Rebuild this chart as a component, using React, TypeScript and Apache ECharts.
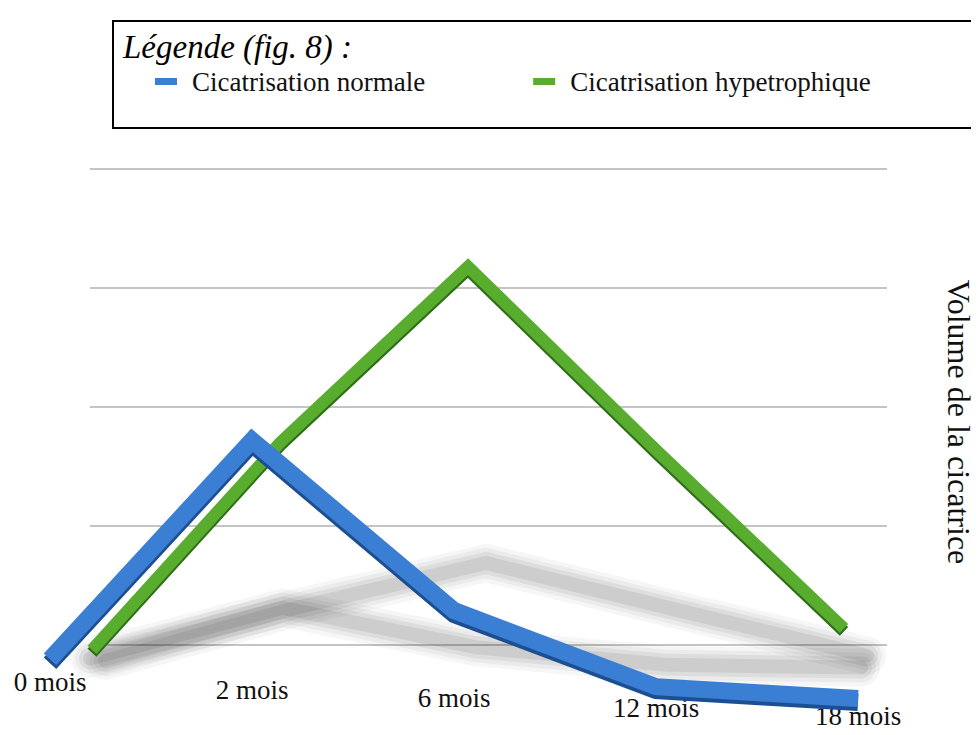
import React, { useEffect, useRef } from "react";
import * as echarts from "echarts";

const categories = ["0 mois", "2 mois", "6 mois", "12 mois", "18 mois"];
const normale = [-0.12, 1.72, 0.29, -0.35, -0.45];
const hypertrophique = [-0.04, 1.7, 3.18, 1.64, 0.14];
const gridLevels = [0, 1, 2, 3, 4];
const seriesNames = ["Cicatrisation normale", "Cicatrisation hypetrophique"];
const legendTitle = "Légende (fig. 8) :";
const yTitle = "Volume de la cicatrice";

const SERIF = "'Liberation Serif', 'Times New Roman', serif";
const BLUE = "#3b7fd4";
const GREEN = "#58ad2e";

export default function App() {
  const ref = useRef<HTMLDivElement>(null);
  useEffect(() => {
    if (!ref.current) return;
    const chart = echarts.init(ref.current, undefined, { renderer: "svg" });
    const hiddenCat = (gridIndex: number) => ({
      type: "category",
      gridIndex,
      data: categories,
      boundaryGap: false,
      show: false,
    });
    const hiddenVal = (gridIndex: number) => ({
      type: "value",
      gridIndex,
      min: -0.5,
      max: 4,
      show: false,
      splitLine: { show: false },
    });
    const labelPad = [0, 8, 16, 26, 34];
    const rich: any = {};
    labelPad.forEach((p, i) => {
      rich["a" + i] = {
        fontSize: 27,
        fontFamily: SERIF,
        color: "#111",
        padding: [p, 0, 0, 0],
      };
    });
    // soft floor shadows: stacked translucent strokes
    const shadowLayers = [
      { width: 38, alpha: 0.035 },
      { width: 30, alpha: 0.045 },
      { width: 22, alpha: 0.06 },
      { width: 14, alpha: 0.07 },
    ];
    const shadowSeries: any[] = [];
    [
      { data: normale, idx: 3 },
      { data: hypertrophique, idx: 4 },
    ].forEach((s) => {
      shadowLayers.forEach((l) => {
        shadowSeries.push({
          type: "line",
          xAxisIndex: s.idx,
          yAxisIndex: s.idx,
          data: s.data,
          symbol: "none",
          silent: true,
          z: 1,
          lineStyle: {
            color: `rgba(0,0,0,${l.alpha})`,
            width: l.width,
            join: "round",
            cap: "round",
          },
        });
      });
    });
    chart.setOption({
      animation: false,
      backgroundColor: "#ffffff",
      title: {
        text: legendTitle,
        left: 118,
        top: 25,
        textStyle: {
          fontFamily: SERIF,
          fontStyle: "italic",
          fontWeight: "normal",
          fontSize: 33,
          color: "#000",
        },
      },
      legend: {
        data: seriesNames,
        left: 150,
        top: 63,
        icon: "rect",
        itemWidth: 22,
        itemHeight: 7,
        itemGap: 108,
        selectedMode: false,
        itemStyle: { shadowBlur: 0, shadowOffsetY: 0 },
        textStyle: {
          fontFamily: SERIF,
          fontSize: 27,
          color: "#111",
          padding: [0, 0, 0, 10],
        },
      },
      graphic: [
        {
          type: "rect",
          shape: { x: 113, y: 21, width: 900, height: 107 },
          style: { fill: "none", stroke: "#000", lineWidth: 2 },
          z: 0,
        },
        {
          type: "text",
          x: 959,
          y: 422,
          rotation: -Math.PI / 2,
          style: {
            text: yTitle,
            fontFamily: SERIF,
            fontSize: 32,
            fill: "#111",
            align: "center",
            verticalAlign: "middle",
          },
        },
      ],
      grid: [
        { left: 90, right: 92, top: 169, bottom: 90 },
        { left: 50, right: 121, top: 169, bottom: 30.5 },
        { left: 92, right: 135, top: 169, bottom: 30.5 },
        { left: 90, right: 118, top: 545, bottom: 66 },
        { left: 105, right: 112, top: 538, bottom: 60 },
      ],
      xAxis: [
        hiddenCat(0),
        {
          type: "category",
          gridIndex: 1,
          data: categories,
          boundaryGap: false,
          offset: -38,
          axisLine: { show: false },
          axisTick: { show: false },
          axisLabel: {
            margin: 2,
            interval: 0,
            formatter: (v: string, i: number) => `{a${i}|${v}}`,
            rich,
          },
        },
        hiddenCat(2),
        hiddenCat(3),
        hiddenCat(4),
      ],
      yAxis: [
        {
          type: "value",
          gridIndex: 0,
          min: gridLevels[0],
          max: gridLevels[gridLevels.length - 1],
          interval: 1,
          position: "right",
          axisLine: { show: false },
          axisTick: { show: false },
          axisLabel: { show: false },
          splitLine: { lineStyle: { color: "#c4c4c4", width: 2 } },
        },
        hiddenVal(1),
        hiddenVal(2),
        hiddenVal(3),
        hiddenVal(4),
      ],
      series: [
        ...shadowSeries,
        {
          name: seriesNames[1],
          type: "line",
          xAxisIndex: 2,
          yAxisIndex: 2,
          data: hypertrophique,
          symbol: "none",
          z: 3,
          itemStyle: { color: GREEN },
          lineStyle: {
            color: GREEN,
            width: 12,
            join: "miter",
            cap: "butt",
            shadowColor: "#2f6e14",
            shadowOffsetY: 3,
            shadowBlur: 1,
          },
        },
        {
          name: seriesNames[0],
          type: "line",
          xAxisIndex: 1,
          yAxisIndex: 1,
          data: normale,
          symbol: "none",
          z: 4,
          itemStyle: { color: BLUE },
          lineStyle: {
            color: BLUE,
            width: 17,
            join: "miter",
            cap: "butt",
            shadowColor: "#1f4f92",
            shadowOffsetY: 4,
            shadowBlur: 1,
          },
        },
      ],
    });
    return () => chart.dispose();
  }, []);
  return <div ref={ref} style={{ width: 979, height: 735, margin: -8 }} />;
}
